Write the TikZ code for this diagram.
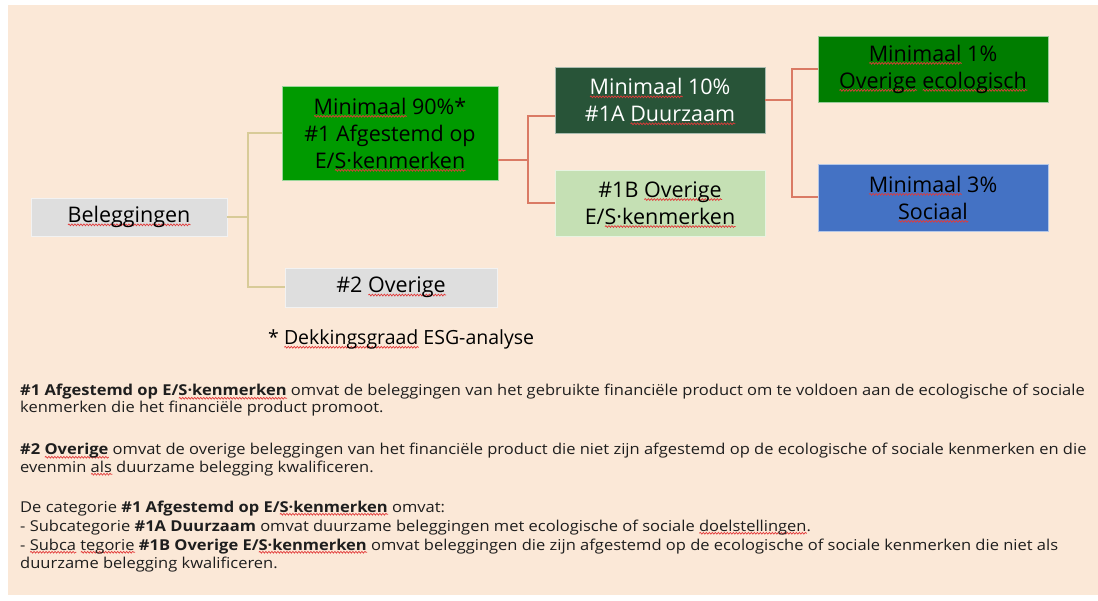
\documentclass[tikz,border=0pt]{standalone}
\usepackage{fontspec}
\usetikzlibrary{decorations.pathmorphing}
\setmainfont{Open Sans}
\newfontfamily\bodyfont[FakeStretch=1.1]{Open Sans}
\definecolor{bgc}{HTML}{FBE8D7}
\definecolor{grayfill}{HTML}{DEDEDE}
\definecolor{greenA}{HTML}{009A00}
\definecolor{darkgreen}{HTML}{285438}
\definecolor{lightgreen}{HTML}{C5E0B4}
\definecolor{greenB}{HTML}{007D00}
\definecolor{bluebox}{HTML}{4472C4}
\definecolor{tanline}{HTML}{D8CB98}
\definecolor{redline}{HTML}{DA7A64}
\definecolor{bodytext}{HTML}{1E1E1E}
\definecolor{squig}{HTML}{E23A3A}
\newdimen\sqwd
\newcommand\sqw[1]{\settowidth\sqwd{#1}\rlap{\raisebox{-3.5pt}[0pt][0pt]{\tikz\draw[squig, line width=0.7pt, decorate, decoration={snake, amplitude=0.9pt, segment length=3pt}] (0pt,0pt) -- (\sqwd,0pt);}}#1}
\tikzset{
  box/.style={rectangle, inner sep=0pt, align=center, draw=white!60!#1, line width=0.6pt, fill=#1,
    font=\fontsize{21.5}{27}\selectfont},
  tanconn/.style={draw=tanline, line width=2pt},
  redconn/.style={draw=redline, line width=2pt},
  bodyline/.style={anchor=base west, inner sep=0pt, text=bodytext, font=\bodyfont\fontsize{15}{17}\selectfont},
  footnote/.style={inner sep=0pt, font=\fontsize{19.5}{24}\selectfont}
}
\begin{document}
\begin{tikzpicture}[x=1pt,y=-1pt]
\useasboundingbox (0,0) rectangle (1098,601);
\fill[white] (0,0) rectangle (1098,601);
\fill[bgc] (8,5) rectangle (1098,595);

% boxes
\node[box=grayfill, minimum width=196pt, minimum height=38pt] (bel) at (129,217) {\sqw{Beleggingen}};
\node[box=greenA, minimum width=216pt, minimum height=94pt] (a1) at (390,133) {\sqw{Minimaal} 90\%*\\\#1 Afgestemd op\\E/\sqw{S·kenmerken}};
\node[box=grayfill, minimum width=212pt, minimum height=39pt] (a2) at (391,287.5) {\#2 \sqw{Overige}};
\node[box=darkgreen, text=white, minimum width=210pt, minimum height=66pt] (b1) at (660,100) {\sqw{Minimaal} 10\%\\\#1A \sqw{Duurzaam}};
\node[box=lightgreen, minimum width=210pt, minimum height=66pt] (b2) at (660,203) {\#1B \sqw{Overige}\\E/\sqw{S·kenmerken}};
\node[box=greenB, minimum width=230pt, minimum height=66pt] (c1) at (933,69) {\sqw{Minimaal} 1\%\\\sqw{Overige} \sqw{ecologisch}};
\node[box=bluebox, minimum width=230pt, minimum height=67pt] (c2) at (933,197.5) {\sqw{Minimaal} 3\%\\\sqw{Sociaal}};

% connectors
\coordinate (j1) at (248,217);
\draw[tanconn] (bel.east) -- (j1) |- (a1.west);
\draw[tanconn] (j1) |- (a2.west);
\coordinate (a1out) at (498,160);
\coordinate (j2) at (528,160);
\coordinate (b1in) at (555,116);
\draw[redconn] (a1out) -- (j2) |- (b1in);
\draw[redconn] (j2) |- (b2.west);
\coordinate (j3) at (792,100);
\draw[redconn] (b1.east) -- (j3) |- (c1.west);
\draw[redconn] (j3) |- (c2.west);

% footnote
\node[footnote, anchor=base west] (fn) at (268,345) {* \sqw{Dekkingsgraad} ESG-analyse};

% body text
\node[bodyline] (l1) at (20,396) {\textbf{\#1 Afgestemd op E/\sqw{S·kenmerken}} omvat de beleggingen van het gebruikte financiële product om te voldoen aan de ecologische of sociale};
\node[bodyline] (l2) at (20,413) {kenmerken die het financiële product promoot.};
\node[bodyline] (l3) at (20,455) {\textbf{\#2 \sqw{Overige}} omvat de overige beleggingen van het financiële product die niet zijn afgestemd op de ecologische of sociale kenmerken en die};
\node[bodyline] (l4) at (20,472) {evenmin \sqw{als} duurzame belegging kwalificeren.};
\node[bodyline] (l5) at (20,512) {De categorie \textbf{\#1 Afgestemd op E/\sqw{S·kenmerken}} omvat:};
\node[bodyline] (l6) at (20,531) {- Subcategorie \textbf{\#1A Duurzaam} omvat duurzame beleggingen met ecologische of sociale \sqw{doelstellingen}.};
\node[bodyline] (l7) at (20,550) {- \sqw{Subca} \sqw{tegorie} \textbf{\#1B Overige E/\sqw{S·kenmerken}} omvat beleggingen die zijn afgestemd op de ecologische of sociale kenmerken die niet als};
\node[bodyline] (l8) at (20,568) {duurzame belegging kwalificeren.};
\end{tikzpicture}
\end{document}
